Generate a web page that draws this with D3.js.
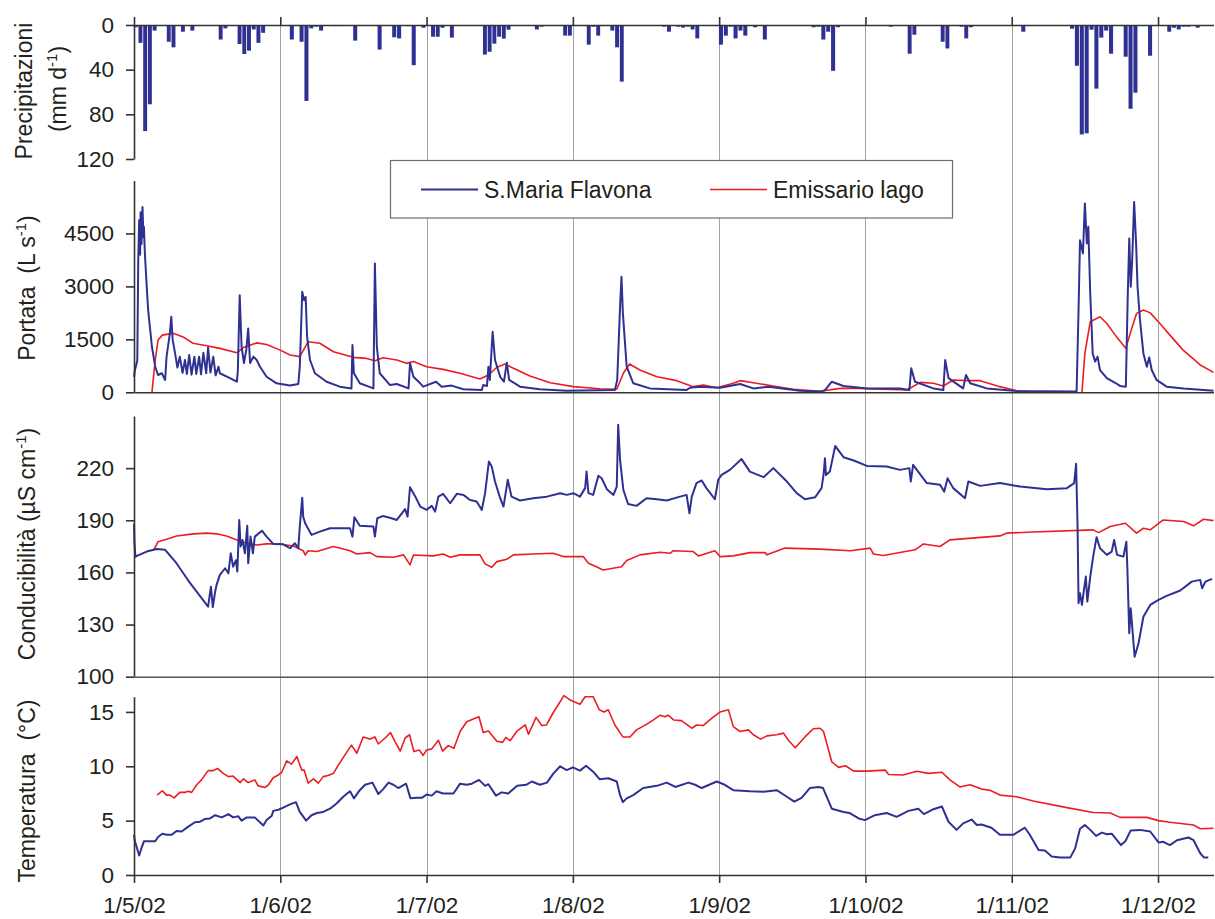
<!DOCTYPE html>
<html>
<head>
<meta charset="utf-8">
<script src="https://cdn.jsdelivr.net/npm/d3@7"></script>
<style>
  body { margin: 0; background: #fff; }
  svg { font-family: "Liberation Sans", Arial, sans-serif; }
  .tick text { fill: #231f20; font-size: 22.5px; font-family: "Liberation Sans", Arial, sans-serif; }
  .title { fill: #231f20; font-size: 23px; }
  .legend text { fill: #231f20; font-size: 23px; }
</style>
</head>
<body>
<div id="chart"></div>
<script>
// days are counted from 1/5/02 (0 = 1 May 2002)
const monthLabels = ["1/5/02", "1/6/02", "1/7/02", "1/8/02", "1/9/02", "1/10/02", "1/11/02", "1/12/02"];
const pTicks = [0, 40, 80, 120];
const qTicks = [0, 1500, 3000, 4500];
const cTicks = [100, 130, 160, 190, 220];
const tTicks = [0, 5, 10, 15];
const seriesNames = ["S.Maria Flavona", "Emissario lago"];

// daily rain, mm d-1
const pioggia = [
  [0,2],[1,16],[2,95],[3,71],[4,5],[7,15],[8,20],[10,6],[12,5],[18,13],[19,3],[22,17],[23,26],[24,23],[25,4],[26,16],[27,7],
  [33,13],[35,15],[36,68],[37,3],[38,1.5],[39,5],[42,1],[46,14],[51,22],[54,11],[55,12],[57,1],[58,36],[60,2.4],
  [62,10.5],[63,10.5],[64,2.5],[66,11.3],[73,26.5],[74,24],[75,16.7],[76,10.5],[77,12.2],[78,4.2],[84,4],[85,1.5],[90,9.5],[91,9.5],
  [95,17.6],[96,1.5],[97,9.5],[100,5],[101,20],[102,50.7],[111,1.5],[112,6],[114,1.5],[115,2.4],[116,1.5],[117,4],[118,12],
  [123,17.6],[124,9.5],[125,1.5],[126,12],[127,5],[128,9.5],[130,2],[132,13],[142,2],[143,1.5],[144,13],[145,6],[146,41],[147,2],
  [158,1.5],[162,25.7],[163,8.7],[169,15],[170,21],[173,1.5],[174,12],[175,2],
  [186,6],[196,3.3],[197,36.5],[198,98],[199,97],[200,4.2],[201,57],[202,11.3],[203,5],[204,25.7],[207,28.4],[208,75],[209,60.6],[212,27.5],
  [216,6],[217,2.4],[218,4],[219,1.5],[220,1.5],[222,2.4]
];

// discharge, L s-1
const portataSMF = [
  [0,440],[0.2,630],[0.7,900],[0.9,3740],[1.1,4880],[1.3,3900],[1.4,5100],[1.6,4200],[1.8,5250],[2.0,4400],[2.1,4690],[2.3,3940],
  [2.7,2990],[3.0,2330],[3.8,1290],[4.5,725],[5.1,490],[5.9,540],[6.6,350],[6.9,1010],[7.6,1670],[7.9,2140],[8.2,1480],[8.7,1110],
  [9.2,700],[9.7,1010],[10.3,550],[10.8,915],[11.2,520],[11.7,1055],[12.2,500],[12.8,1010],[13.2,520],[13.8,1010],[14.2,510],
  [14.7,1120],[15.3,540],[15.7,1270],[16.2,560],[16.8,1010],[17.3,480],[17.9,725],[18.2,540],[19.9,430],[21.8,300],[22.0,600],
  [22.4,2750],[22.8,1290],[23.3,830],[23.8,1200],[24.2,1810],[24.6,830],[25.3,1010],[26.0,915],[26.7,725],[28.1,440],[30.2,255],
  [33.0,190],[34.7,235],[35.0,725],[35.5,2850],[35.9,2610],[36.2,2700],[36.5,1570],[37.1,915],[38.1,540],[40.5,300],[43.2,160],
  [45.6,110],[45.8,1340],[46.1,540],[47.3,255],[50.1,110],[50.4,3650],[50.8,1290],[51.4,540],[53.5,205],[54.9,235],[57.3,110],
  [57.6,820],[58.3,440],[59.7,255],[60.3,160],[63.0,300],[64.2,160],[66.3,190],[68.8,85],[72.7,65],[73.0,205],[73.8,180],
  [74.1,725],[74.4,350],[75.0,1715],[75.5,915],[76.6,440],[77.4,300],[78.0,840],[78.5,350],[80.8,160],[85.0,85],[90.7,45],
  [100.9,65],[101.4,350],[102.0,2420],[102.3,3270],[102.6,2235],[102.9,1670],[103.4,725],[104.8,255],[108.3,110],[116.1,65],
  [116.8,130],[118.9,160],[123.2,130],[127.3,235],[130.0,110],[133.1,160],[139.6,45],[143.7,20],[144.7,60],[146.1,300],[148.5,180],
  [153.3,110],[160.3,110],[162.3,65],[162.7,680],[163.5,300],[167.4,110],[169.5,65],[169.9,915],[170.6,400],[173.7,110],
  [174.3,490],[175.2,255],[178.7,110],[185.0,40],[197.3,20],[197.7,2330],[198.0,4310],[198.6,3930],[199.0,5350],[199.4,4220],
  [199.7,4690],[200.1,2800],[200.6,1100],[201.1,870],[201.6,1010],[202.1,630],[203.5,400],[205.2,270],[206.2,180],[207.4,160],
  [207.8,2800],[208.1,4360],[208.4,2990],[208.7,3740],[209.1,5390],[209.5,4220],[209.8,2990],[210.3,2050],[211.0,1100],
  [211.7,725],[212.2,990],[212.7,630],[213.7,350],[215.8,160],[219.4,110],[225.7,45]
];
const portataEL = [
  [3.8,0],[4.5,915],[5.1,1480],[6.0,1620],[8.3,1670],[10.4,1570],[12.5,1390],[15.4,1320],[18.2,1245],[21.8,1120],[23.2,1270],
  [26.0,1400],[28.1,1355],[31.0,1195],[33.0,1055],[35.0,1010],[36.7,1430],[39.1,1390],[41.9,1150],[46.0,990],[48.7,960],
  [50.4,895],[52.1,980],[54.9,915],[56.9,820],[58.3,870],[61.0,725],[64.5,650],[68.1,540],[72.3,375],[74.1,490],[75.9,710],
  [77.6,800],[79.4,680],[82.9,460],[87.2,270],[92.1,160],[97.7,100],[101.3,85],[102.7,540],[104.0,800],[106.2,630],[109.8,440],
  [114.0,330],[117.5,160],[119.7,205],[122.5,130],[125.9,255],[127.3,330],[130.0,270],[134.1,180],[138.2,85],[143.7,30],
  [147.8,110],[152.0,110],[156.8,85],[161.8,65],[164.6,280],[167.4,255],[169.5,180],[171.6,350],[174.5,330],[177.3,330],
  [181.5,160],[185.0,45],[189.8,0],[189.9,null],[198.4,0],[199.0,1100],[200.1,2000],[202.1,2140],[203.5,1950],[205.5,1570],
  [207.4,1245],[208.3,1670],[209.6,2235],[211.0,2330],[212.4,2250],[214.4,1950],[216.5,1620],[219.3,1195],[222.9,775],[225.7,565]
];

// conductivity, uS cm-1
const conducSMF = [
  [0.0,188],[0.1,177],[0.3,169],[0.6,169.5],[2.7,172],[4.8,173.5],[6.6,173],[9.0,165.3],[11.9,153.8],[15.7,140.3],[16.3,151.8],
  [16.7,140],[17.2,149],[17.5,152.8],[18.2,158.6],[19.3,162.4],[20.0,159.5],[20.5,171],[21.0,163.3],[21.6,167],[21.9,160.5],
  [22.3,190.2],[22.6,174.9],[23.0,178.7],[23.5,171],[24.0,186.8],[24.2,165.3],[24.7,180.6],[25.2,171],[25.6,180.6],[27.1,184],
  [28.1,180.6],[29.5,176.4],[31.6,176.2],[33.0,173.9],[34.0,176.8],[34.7,174],[35.0,186.4],[35.5,203],[35.7,192],[36.1,188.3],
  [37.4,181.6],[39.1,183.5],[41.2,185.4],[45.3,185.4],[45.8,180.6],[46.2,191.8],[47.3,186.8],[50.1,186.4],[50.4,180.6],
  [50.9,191.2],[52.1,192.5],[53.8,191.2],[54.9,190.2],[56.6,196.4],[57.1,192.1],[57.6,209],[58.7,203.6],[59.7,197.9],[61.0,196],
  [62.1,198.3],[62.8,195],[63.5,203.6],[64.5,205.2],[66.0,199.8],[67.4,205.2],[68.8,204.6],[70.2,201.7],[71.6,200.8],[72.7,196],
  [73.4,205.6],[74.2,223.8],[74.8,221],[75.5,212.3],[76.6,202.7],[77.3,197.9],[78.2,213.3],[79.0,203.6],[80.8,201.4],[83.6,202.7],
  [86.5,203.6],[89.3,205.6],[90.7,204.6],[92.1,205.6],[93.5,203.6],[94.6,208.5],[94.9,218],[95.3,205.6],[96.3,204.6],[97.4,215.6],
  [98.1,214.2],[99.2,207.9],[100.6,204.6],[101.3,209.4],[101.6,245],[102.0,224.8],[102.7,207.5],[103.7,199.4],[105.5,198.3],
  [107.6,202.7],[109.8,202.1],[111.9,201.4],[114.7,203.6],[116.1,204.6],[116.7,194],[117.2,203.6],[118.2,211.4],[119.3,212.9],
  [120.3,208.5],[122.1,202.1],[122.8,213.3],[123.5,216.1],[125.2,219],[127.6,225.2],[129.3,218],[132.1,214.8],[134.1,220],
  [136.9,212.3],[138.9,205.6],[140.6,202.1],[142.7,203.3],[144.0,208.5],[144.4,216.1],[144.7,225.7],[144.9,216],[145.7,218],
  [146.8,232.8],[148.5,226.3],[150.6,224.4],[153.3,221.3],[157.5,220.9],[160.3,219],[162.3,220],[162.6,212.3],[163.1,221.9],
  [166.0,211.4],[168.8,210.4],[169.7,206.5],[170.4,214.2],[171.6,208.5],[174.1,202.7],[174.8,212.3],[177.3,209.8],[181.5,211.4],
  [185.7,209.4],[191.2,207.9],[195.3,208.5],[196.8,211.4],[197.2,222.5],[197.5,186.4],[197.7,142.3],[198.0,148],[198.4,141.3],
  [198.8,150],[199.2,157.6],[199.5,143.2],[200.1,157.6],[200.7,169.1],[201.4,180.3],[202.1,173.9],[203.5,170.1],[204.5,172],
  [205.0,178.7],[205.6,170.1],[206.9,169.1],[207.5,177.7],[207.7,163.3],[208.1,125],[208.4,139.4],[209.2,111.5],[210.0,119.2],
  [211.0,134.5],[212.4,141.3],[214.1,144.2],[215.8,146.5],[218.7,149.6],[221.1,154.7],[222.9,155.7],[223.3,150.9],[224.0,154.7],
  [225.4,156.3]
];
const conducEL = [
  [4.2,173],[5.1,177.7],[6.9,179.1],[9.0,181],[12.6,182.2],[15.4,182.6],[17.5,182.2],[19.6,181],[21.8,178.7],[23.9,176.8],
  [26.0,175.8],[28.1,176.4],[30.9,176.4],[33.7,175.2],[35.7,172.5],[36.1,170],[36.7,172.5],[38.5,172],[41.9,174.9],[45.3,172.5],
  [46.7,170.6],[49.4,171.4],[50.8,169.1],[54.2,168.7],[56.3,170.1],[57.6,164.3],[58.3,170],[62.4,169.5],[64.5,170.6],[66.0,168.7],
  [68.1,170.1],[72.3,170.1],[73.4,164.9],[74.8,163],[75.9,166.2],[78.0,167.6],[79.4,170.1],[83.6,170.6],[87.8,171],[90.0,169.1],
  [94.2,169.1],[95.3,165.3],[97.0,163.3],[98.4,161.4],[102.3,163.3],[103.4,166.8],[106.2,170.1],[110.5,171.6],[112.6,171],
  [113.3,172.5],[117.5,172],[118.6,169.5],[122.1,172.5],[123.2,169.1],[125.9,169.5],[129.3,171.4],[132.4,171.4],[132.8,170.1],
  [136.5,174],[143.7,173.4],[149.9,172.5],[154.0,174],[154.7,170.6],[156.8,169.7],[163.5,173],[165.3,176.4],[168.8,174.9],
  [170.9,178.7],[181.5,181],[182.9,182.6],[188.4,183.3],[200.7,184.5],[201.8,182.9],[204.2,186.4],[207.3,188.3],[209.6,182.6],
  [211.0,185.4],[212.4,184.5],[215.1,190.2],[219.4,189.3],[221.5,186.8],[223.6,190.6],[225.7,189.8]
];

// water temperature, deg C
const temperSMF = [
  [0.0,3.7],[0.2,3.1],[1.1,1.8],[1.6,2.5],[2.1,3.1],[3.0,3.1],[4.5,3.1],[5.1,3.5],[6.0,3.8],[6.9,3.7],[8.0,3.7],[9.0,4.05],
  [10.1,4.0],[11.5,4.45],[12.9,4.85],[14.0,4.9],[15.0,5.15],[16.1,5.2],[17.2,5.5],[18.6,5.3],[20.0,5.6],[21.0,5.3],[22.1,5.4],
  [22.8,5.0],[23.9,5.3],[25.6,5.3],[27.4,4.55],[28.1,5.05],[29.2,5.45],[29.5,5.9],[30.6,6.0],[31.6,6.2],[33.0,6.5],[34.2,6.7],
  [35.0,5.8],[36.3,5.0],[37.4,5.5],[38.5,5.7],[39.8,5.8],[41.2,6.1],[42.6,6.6],[43.9,7.2],[45.3,7.7],[46.1,7.05],[47.3,7.8],
  [48.4,8.3],[49.9,8.5],[51.1,7.45],[52.1,7.9],[53.2,8.5],[54.2,8.3],[55.2,8.0],[56.8,8.4],[57.7,7.05],[59.0,7.1],[60.0,7.1],
  [61.0,7.4],[62.1,7.3],[63.1,7.7],[64.5,7.5],[66.7,7.5],[68.1,8.4],[69.5,8.3],[70.6,8.4],[72.1,8.75],[73.4,8.2],[74.1,8.35],
  [75.7,7.3],[76.9,7.6],[78.3,7.5],[80.2,8.2],[82.1,8.3],[83.3,8.6],[85.0,8.3],[86.5,8.5],[87.9,9.35],[89.3,10.0],[90.7,9.65],
  [92.0,9.9],[93.5,9.6],[94.8,10.05],[96.3,9.5],[97.7,8.8],[99.5,8.9],[101.3,8.6],[102.0,7.35],[102.6,6.7],[103.4,7.05],
  [104.8,7.35],[106.9,8.0],[109.8,8.2],[111.9,8.5],[113.7,8.1],[116.5,8.5],[117.9,8.3],[119.3,8.0],[122.5,8.6],[123.9,8.35],
  [125.9,7.8],[129.3,7.7],[132.1,7.65],[134.8,7.8],[136.9,7.2],[138.4,6.75],[139.9,7.1],[141.6,8.0],[143.4,8.1],[144.3,8.0],
  [146.1,6.1],[148.5,5.8],[149.8,5.7],[151.6,5.2],[152.9,5.05],[155.0,5.5],[157.5,5.7],[159.6,5.35],[162.1,5.9],[164.2,6.1],
  [165.4,5.6],[167.4,6.05],[169.2,6.3],[170.6,4.9],[172.3,4.15],[173.7,4.75],[175.5,5.1],[176.6,4.6],[177.6,4.65],[179.7,4.35],
  [181.5,3.7],[184.3,3.7],[186.7,4.35],[187.7,3.7],[189.5,2.3],[190.8,2.25],[192.2,1.7],[193.9,1.6],[196.0,1.6],[197.0,2.45],
  [198.0,4.25],[199.0,4.6],[200.1,4.15],[201.3,3.6],[202.5,3.9],[203.5,3.75],[204.5,3.8],[206.4,2.75],[207.3,3.1],[208.4,4.1],
  [210.3,4.15],[212.4,4.0],[214.1,3.0],[215.1,3.05],[216.5,2.75],[218.0,3.2],[220.4,3.45],[221.5,3.2],[222.9,2.0],[223.7,1.6],
  [224.6,1.6]
];
const temperEL = [
  [4.9,7.35],[6.0,7.75],[6.9,7.35],[7.6,7.35],[8.5,7.1],[9.7,7.6],[10.8,7.6],[11.5,7.7],[12.2,7.6],[13.3,8.3],[14.3,8.75],
  [15.7,9.6],[16.8,9.6],[17.7,9.8],[18.9,9.35],[20.0,9.05],[21.0,9.1],[22.5,8.5],[23.2,8.85],[24.2,8.5],[25.6,8.75],[26.3,8.2],
  [27.8,8.05],[28.5,8.3],[29.5,8.95],[30.6,9.2],[31.3,9.45],[32.3,10.5],[33.3,10.2],[34.4,10.9],[35.4,9.65],[35.9,9.65],
  [36.7,8.45],[37.8,8.85],[38.8,8.45],[39.8,9.05],[40.8,9.15],[41.9,9.35],[42.9,10.1],[43.9,10.8],[45.6,11.95],[46.7,11.2],
  [48.0,12.7],[49.4,12.5],[50.4,12.7],[51.1,12.05],[52.5,12.6],[53.6,13.1],[54.5,12.3],[55.6,11.4],[56.6,12.6],[57.5,12.9],
  [58.4,11.35],[59.5,11.5],[60.3,11.0],[61.0,11.5],[62.1,11.6],[63.5,12.4],[64.4,11.4],[65.6,11.9],[66.8,11.65],[68.1,13.2],
  [69.5,14.1],[70.9,14.35],[72.1,14.55],[73.0,13.1],[74.1,13.25],[75.9,12.3],[77.1,12.2],[77.8,12.65],[78.7,12.35],[80.1,13.2],
  [81.9,13.8],[82.6,12.95],[84.2,14.5],[85.4,13.75],[86.4,13.8],[87.8,14.9],[89.1,15.8],[90.1,16.5],[91.4,16.1],[93.5,15.7],
  [94.6,16.4],[96.3,16.4],[97.6,15.2],[98.6,15.0],[99.5,15.2],[100.9,13.8],[102.6,12.7],[104.1,12.7],[105.5,13.35],[107.6,13.85],
  [109.0,14.25],[110.5,14.7],[111.5,14.55],[112.2,14.7],[113.4,14.25],[115.0,14.2],[117.2,13.5],[118.2,13.8],[119.6,13.75],
  [121.4,14.4],[123.2,15.0],[124.9,15.2],[125.9,13.65],[127.3,13.2],[129.0,13.35],[130.0,12.9],[131.5,12.5],[132.8,12.8],
  [134.8,12.9],[136.2,13.05],[137.2,12.4],[138.6,11.7],[140.6,12.7],[142.3,13.45],[143.7,13.5],[144.4,13.2],[146.1,10.4],
  [147.5,9.9],[148.9,10.05],[150.6,9.55],[153.3,9.55],[157.2,9.65],[157.9,9.25],[161.0,9.2],[163.9,9.55],[166.3,9.35],
  [169.2,9.45],[170.9,8.75],[173.0,8.1],[175.2,8.3],[177.6,7.9],[179.4,7.8],[181.5,7.35],[185.0,7.2],[188.4,6.8],[195.3,6.2],
  [200.7,5.75],[204.2,5.7],[206.2,5.3],[211.7,5.3],[214.1,5.0],[216.5,4.85],[221.5,4.6],[222.9,4.25],[225.7,4.3]
];

const blue = '#2e3192', red = '#ed1c24';
const left = 134, right = 1213.5, monthW = 146.29;

const svg = d3.select('#chart').append('svg')
  .attr('width', 1215)
  .attr('height', 919);

const monthDates = d3.range(monthLabels.length).map(i => new Date(2002, 4 + i, 1));
const toDate = d => new Date(2002, 4, 1, 0, Math.round(d * 1440));

// months are evenly spaced in the original, so the time scale is piecewise
const x = d3.scaleTime()
  .domain([...monthDates, toDate(225.7)])
  .range([...monthDates.map((m, i) => left + i * monthW), right]);

const yP = d3.scaleLinear().domain([0, 120]).range([25, 159]);
const yQ = d3.scaleLinear().domain([0, 6000]).range([392.3, 180.5]);
const yC = d3.scaleLinear().domain([100, 250]).range([676.7, 416]);
const yT = d3.scaleLinear().domain([0, 16.4]).range([875, 696.7]);

//vertical month grid
svg.append('g')
  .selectAll('line')
  .data(monthDates.slice(1))
  .enter().append('line')
  .attr('x1', d => Math.round(x(d)) + 0.5)
  .attr('x2', d => Math.round(x(d)) + 0.5)
  .attr('y1', 25)
  .attr('y2', 875)
  .attr('stroke', '#a3a3a3')
  .attr('stroke-width', 1);

//rain bars hanging from the top axis
svg.append('g')
  .selectAll('rect')
  .data(pioggia)
  .enter().append('rect')
  .attr('x', d => x(toDate(d[0] - 0.05)))
  .attr('width', d => x(toDate(d[0] + 0.78)) - x(toDate(d[0] - 0.05)))
  .attr('y', yP(0))
  .attr('height', d => yP(d[1]) - yP(0))
  .attr('fill', blue);

function drawLine(data, y, color, width){
  const line = d3.line()
    .defined(d => d[1] !== null)
    .x(d => x(toDate(d[0])))
    .y(d => y(d[1]));
  svg.append('path')
    .datum(data)
    .attr('fill', 'none')
    .attr('stroke', color)
    .attr('stroke-width', width)
    .attr('stroke-linejoin', 'round')
    .attr('d', line);
}

drawLine(portataEL, yQ, red, 1.6);
drawLine(portataSMF, yQ, blue, 2);
drawLine(conducEL, yC, red, 1.6);
drawLine(conducSMF, yC, blue, 2);
drawLine(temperEL, yT, red, 1.6);
drawLine(temperSMF, yT, blue, 2);

function styleAxis(g, color){
  g.attr('font-size', null).attr('font-family', null);
  g.select('.domain').attr('stroke', color || '#333').attr('stroke-width', 1.6);
  g.selectAll('.tick line').attr('stroke', '#333').attr('stroke-width', 1.6);
}

//y axes
[[yP, pTicks], [yQ, qTicks], [yC, cTicks], [yT, tTicks]].forEach(([y, ticks]) => {
  svg.append('g')
    .attr('transform', 'translate(' + left + ',0)')
    .call(d3.axisLeft(y).tickValues(ticks).tickSize(8).tickSizeOuter(0).tickPadding(12)
      .tickFormat(d => String(d)))
    .call(styleAxis);
});

//x axes
svg.append('g')
  .attr('transform', 'translate(0,' + yP(0) + ')')
  .call(d3.axisTop(x).tickValues(monthDates).tickSize(8).tickSizeOuter(0).tickFormat(''))
  .call(styleAxis);
svg.append('g')
  .attr('transform', 'translate(0,' + yQ(0) + ')')
  .call(d3.axisBottom(x).tickValues([]).tickSizeOuter(0))
  .call(g => styleAxis(g, '#333'));
svg.append('g')
  .attr('transform', 'translate(0,' + yC(100) + ')')
  .call(d3.axisBottom(x).tickValues([]).tickSizeOuter(0))
  .call(g => styleAxis(g, '#555'));
svg.append('g')
  .attr('transform', 'translate(0,' + yT(0) + ')')
  .call(d3.axisBottom(x).tickValues(monthDates).tickSize(8).tickSizeOuter(0).tickPadding(14)
    .tickFormat((d, i) => monthLabels[i]))
  .call(styleAxis);

//rotated axis titles, pieces are [text, dy, superscript]
function yTitle(px, py, pieces){
  const t = svg.append('text')
    .attr('class', 'title')
    .attr('text-anchor', 'middle')
    .attr('transform', 'translate(' + px + ',' + py + ') rotate(-90)');
  pieces.forEach(p => {
    const s = t.append('tspan').text(p[0]);
    if(p[1]) s.attr('dy', p[1]);
    if(p[2]) s.attr('font-size', 15);
  });
}
const sp = '\u00a0';
yTitle(32, 91, [['Precipitazioni']]);
yTitle(66, 89, [['(mm d'], ['-1', -9, true], [')', 9]]);
yTitle(35, 288, [['Portata' + sp + sp + '(L s'], ['-1', -9, true], [')', 9]]);
yTitle(35, 544, [['Conducibilità (µS cm'], ['-1', -9, true], [')', 9]]);
yTitle(35, 791, [['Temperatura' + sp + sp + '(°C)']]);

//legend
const legend = svg.append('g').attr('class', 'legend');
legend.append('rect')
  .attr('x', 390.5)
  .attr('y', 160.5)
  .attr('width', 562)
  .attr('height', 57.5)
  .attr('fill', '#fff')
  .attr('stroke', '#6d6d6d')
  .attr('stroke-width', 1.2);
const legendItems = [
  {name: seriesNames[0], color: blue, x: 421},
  {name: seriesNames[1], color: red, x: 710}
];
legendItems.forEach(item => {
  legend.append('line')
    .attr('x1', item.x).attr('x2', item.x + 57)
    .attr('y1', 189.5).attr('y2', 189.5)
    .attr('stroke', item.color)
    .attr('stroke-width', item.color === blue ? 2 : 1.6);
  legend.append('text')
    .attr('x', item.x + 63)
    .attr('y', 198)
    .text(item.name);
});
</script>
</body>
</html>
